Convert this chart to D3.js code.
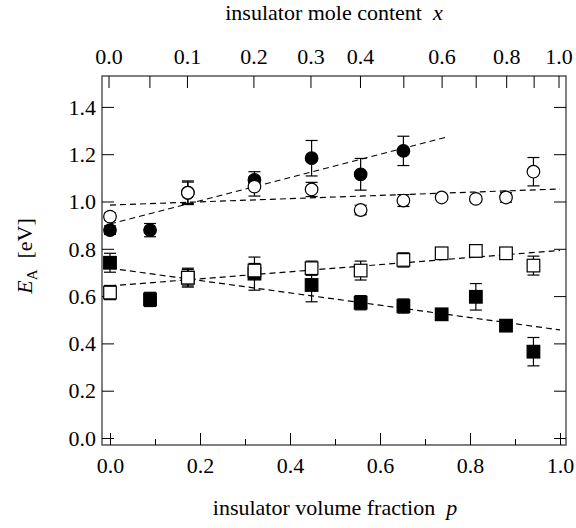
<!DOCTYPE html>
<html>
<head>
<meta charset="utf-8">
<script src="https://cdn.jsdelivr.net/npm/d3@7"></script>
<style>
  html, body { margin: 0; padding: 0; background: #fff; }
  svg { display: block; font-family: "Liberation Serif", "Times New Roman", serif; }
</style>
</head>
<body>
<svg id="chart" width="576" height="528"></svg>
<script>
// ---- data ----
const filledCircleP   = [0.0, 0.089, 0.173, 0.321, 0.448, 0.557, 0.652];
const filledCircleE   = [0.879, 0.879, 1.037, 1.091, 1.183, 1.115, 1.214];
const filledCircleErr = [0.018, 0.028, 0.045, 0.035, 0.075, 0.067, 0.062];

const openCircleP   = [0.0, 0.173, 0.321, 0.448, 0.557, 0.652, 0.737, 0.813, 0.880, 0.941];
const openCircleE   = [0.936, 1.037, 1.063, 1.051, 0.964, 1.004, 1.017, 1.011, 1.017, 1.126];
const openCircleErr = [0.015, 0.05, 0.04, 0.03, 0.02, 0.025, 0.0, 0.01, 0.02, 0.06];

const filledSquareP   = [0.0, 0.089, 0.173, 0.321, 0.448, 0.557, 0.652, 0.737, 0.813, 0.880, 0.941];
const filledSquareE   = [0.741, 0.586, 0.678, 0.695, 0.647, 0.572, 0.558, 0.523, 0.597, 0.475, 0.365];
const filledSquareErr = [0.04, 0.03, 0.035, 0.07, 0.071, 0.03, 0.03, 0.0, 0.056, 0.012, 0.06];

const openSquareP   = [0.0, 0.173, 0.321, 0.448, 0.557, 0.652, 0.737, 0.813, 0.880, 0.941];
const openSquareE   = [0.615, 0.678, 0.708, 0.718, 0.708, 0.753, 0.781, 0.791, 0.781, 0.729];
const openSquareErr = [0.03, 0.04, 0.03, 0.03, 0.04, 0.03, 0.0, 0.025, 0.01, 0.04];

// linear fits: [p0, E0, p1, E1]
const fitFilledCircle = [0.0, 0.905, 0.747, 1.272];
const fitOpenCircle   = [0.0, 0.985, 1.0, 1.053];
const fitOpenSquare   = [0.0, 0.643, 1.0, 0.793];
const fitFilledSquare = [0.0, 0.718, 1.0, 0.457];

// axes ticks
const bottomMajorTicks = [0, 0.2, 0.4, 0.6, 0.8, 1.0];
const bottomMinorTicks = [0.1, 0.3, 0.5, 0.7, 0.9];
const leftTicks = [0, 0.2, 0.4, 0.6, 0.8, 1.0, 1.2, 1.4];
const topTickValues = [0, 0.05, 0.1, 0.2, 0.3, 0.4, 0.5, 0.6, 0.7, 0.8, 0.9, 1.0];
const topTickLabels = ["0.0", "", "0.1", "0.2", "0.3", "0.4", "", "0.6", "", "0.8", "", "1.0"];
const volumeRatio = 1.9; // insulator / conductor molar volume ratio (axis transform)

// ---- layout ----
const L = 102, R = 566, T = 76, B = 445;
const svg = d3.select("#chart");

const x = d3.scaleLinear().domain([-8/450, 1 + 6/450]).range([L, R]);
const y = d3.scaleLinear().domain([-7/236.5, (438 - 76)/236.5]).range([B, T]);
const moleToP = m => m * volumeRatio / (m * volumeRatio + 1 - m);
const xTop = d3.scaleLinear().domain(x.domain()).range([L - 1.5, R - 1.5]);

// frame
svg.append("rect").attr("x", L).attr("y", T).attr("width", R - L).attr("height", B - T)
  .attr("fill", "none").attr("stroke", "#555").attr("stroke-width", 1.5);

const fs = 22;
// bottom axis
const bAxis = svg.append("g").attr("transform", `translate(0,${B})`);
bAxis.call(d3.axisBottom(x).tickValues(bottomMajorTicks).tickSize(-12).tickPadding(0)
    .tickFormat(d3.format(".1f")));
bAxis.select(".domain").remove();
bAxis.selectAll("line").attr("stroke", "#000");
bAxis.selectAll("text").attr("font-size", fs).attr("font-family", "Liberation Serif")
  .attr("fill", "#000").attr("y", 28).attr("dy", 0);
const bMinor = svg.append("g").attr("transform", `translate(0,${B})`);
bMinor.call(d3.axisBottom(x).tickValues(bottomMinorTicks).tickSize(-6).tickFormat(""));
bMinor.select(".domain").remove();
bMinor.selectAll("line").attr("stroke", "#000");

// left axis
const lAxis = svg.append("g").attr("transform", `translate(${L},0)`);
lAxis.call(d3.axisLeft(y).tickValues(leftTicks).tickSize(-12).tickPadding(6)
    .tickFormat(d3.format(".1f")));
lAxis.select(".domain").remove();
lAxis.selectAll("line").attr("stroke", "#000");
lAxis.selectAll("text").attr("font-size", fs).attr("font-family", "Liberation Serif")
  .attr("fill", "#000").attr("x", -6).attr("dy", "0.33em");

// right axis
const rAxis = svg.append("g").attr("transform", `translate(${R},0)`);
rAxis.call(d3.axisRight(y).tickValues(leftTicks).tickSize(-12).tickFormat(""));
rAxis.select(".domain").remove();
rAxis.selectAll("line").attr("stroke", "#000");

// top axis (mole content, nonlinear)
const tAxis = svg.append("g").attr("transform", `translate(0,${T})`);
const topPos = topTickValues.map(moleToP);
tAxis.call(d3.axisTop(xTop).tickValues(topPos).tickSize(-12).tickPadding(0)
   .tickFormat((d, i) => topTickLabels[i]));
tAxis.select(".domain").remove();
tAxis.selectAll("line").attr("stroke", "#000");
tAxis.selectAll("text").attr("font-size", fs).attr("font-family", "Liberation Serif")
  .attr("fill", "#000").attr("y", -12).attr("dy", 0);

// titles
const bt = svg.append("text").attr("x", 335).attr("y", 515).attr("text-anchor", "middle")
  .attr("font-size", fs).attr("fill", "#000");
bt.append("tspan").text("insulator volume fraction\u00a0\u00a0");
bt.append("tspan").attr("font-style", "italic").text("p");

const tt = svg.append("text").attr("x", 334).attr("y", 20).attr("text-anchor", "middle")
  .attr("font-size", fs).attr("fill", "#000");
tt.append("tspan").text("insulator mole content\u00a0\u00a0");
tt.append("tspan").attr("font-style", "italic").text("x");

const yl = svg.append("text").attr("transform", "translate(32,256) rotate(-90)")
  .attr("text-anchor", "middle").attr("font-size", fs).attr("fill", "#000");
yl.append("tspan").attr("font-style", "italic").text("E");
yl.append("tspan").attr("font-size", 15).attr("dy", 5).text("A");
yl.append("tspan").attr("dy", -5).text("\u00a0\u00a0[eV]");

// fits
const fits = [fitFilledCircle, fitOpenCircle, fitOpenSquare, fitFilledSquare];
svg.append("g").selectAll("line").data(fits).join("line")
  .attr("x1", d => x(d[0])).attr("y1", d => y(d[1]))
  .attr("x2", d => x(d[2])).attr("y2", d => y(d[3]))
  .attr("stroke", "#000").attr("stroke-width", 1.2).attr("stroke-dasharray", "6,4");

function series(P, E, Err) { return P.map((p, i) => ({p, e: E[i], err: Err[i]})); }
const fc = series(filledCircleP, filledCircleE, filledCircleErr);
const oc = series(openCircleP, openCircleE, openCircleErr);
const fsq = series(filledSquareP, filledSquareE, filledSquareErr);
const osq = series(openSquareP, openSquareE, openSquareErr);

function errorBars(data) {
  const g = svg.append("g").attr("stroke", "#000").attr("stroke-width", 1.2);
  data.filter(d => d.err > 0).forEach(d => {
    const cx = x(d.p), y1 = y(d.e + d.err), y2 = y(d.e - d.err);
    g.append("line").attr("x1", cx).attr("x2", cx).attr("y1", y1).attr("y2", y2);
    g.append("line").attr("x1", cx - 6).attr("x2", cx + 6).attr("y1", y1).attr("y2", y1);
    g.append("line").attr("x1", cx - 6).attr("x2", cx + 6).attr("y1", y2).attr("y2", y2);
  });
}
function circles(data, filled) {
  svg.append("g").selectAll("circle").data(data).join("circle")
    .attr("cx", d => x(d.p)).attr("cy", d => y(d.e)).attr("r", 6.3)
    .attr("fill", filled ? "#000" : "#fff").attr("stroke", "#000").attr("stroke-width", 1.2);
}
function squares(data, filled) {
  svg.append("g").selectAll("rect").data(data).join("rect")
    .attr("x", d => x(d.p) - 6.3).attr("y", d => y(d.e) - 6.3).attr("width", 12.6).attr("height", 12.6)
    .attr("fill", filled ? "#000" : "#fff").attr("stroke", "#000").attr("stroke-width", 1.2);
}

errorBars(fsq); squares(fsq, true);
errorBars(osq); squares(osq, false);
errorBars(fc); circles(fc, true);
errorBars(oc); circles(oc, false);
</script>
</body>
</html>
